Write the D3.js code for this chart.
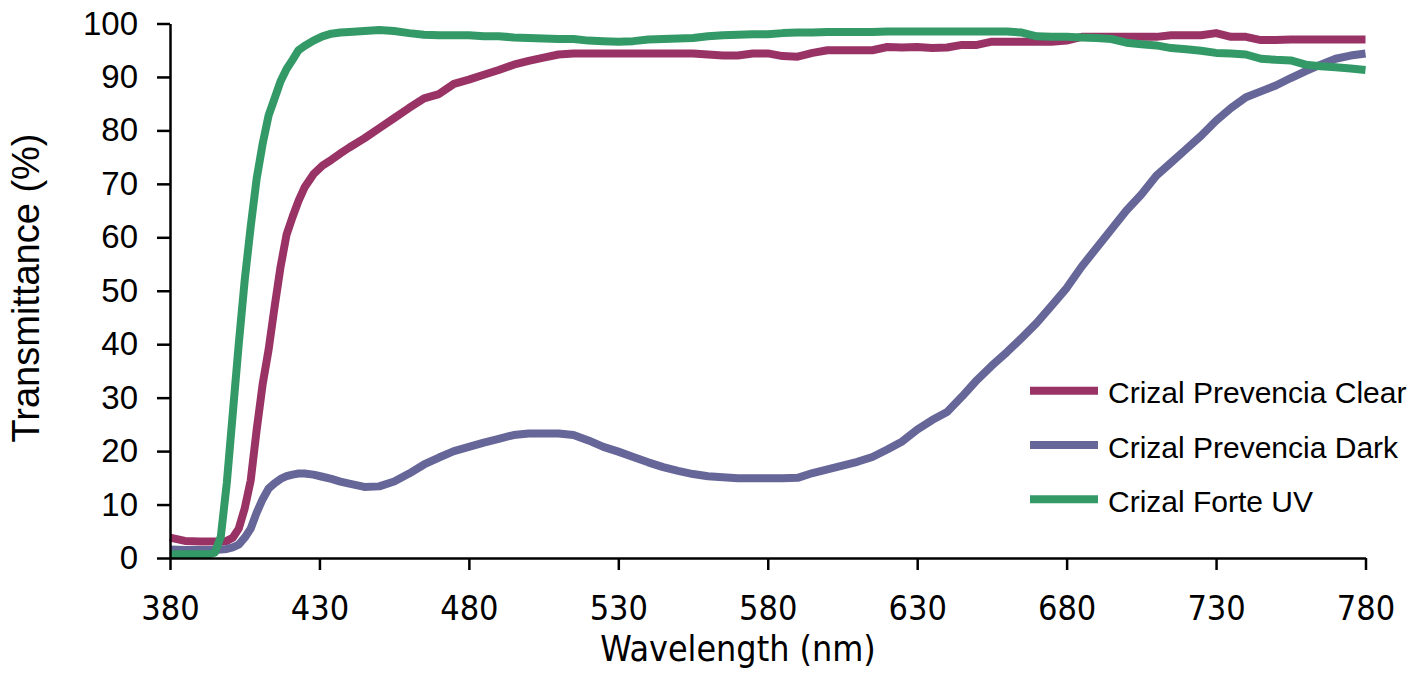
<!DOCTYPE html>
<html>
<head>
<meta charset="utf-8">
<script src="https://cdn.jsdelivr.net/npm/d3@7"></script>
<style>
  html, body { margin: 0; padding: 0; background: #fff; }
  svg { display: block; }
</style>
</head>
<body>
<svg id="chart" width="1418" height="676"></svg>
<script>
// ---- DATA ----
const wavelengths = [380,385,390,393,395,397,399,401,403,405,407,409,411,413,415,417,419,421,423,425,428,431,434,437,440,445,450,455,460,465,470,475,480,485,490,495,500,505,510,515,520,525,530,535,540,545,550,555,560,565,570,575,580,585,590,595,600,605,610,615,620,625,630,635,640,645,650,655,660,665,670,675,680,685,690,695,700,705,710,715,720,725,730,735,740,745,750,755,760,765,770,775,780];

const clearValues = [3.8,3.2,3.1,3.1,3.1,3.1,3.2,3.8,5.5,9.3,14.5,24,32.5,39,47,54.5,60.5,63.8,66.8,69.3,71.8,73.4,74.5,75.7,76.8,78.5,80.4,82.3,84.2,86,86.8,88.7,89.5,90.4,91.3,92.3,93,93.6,94.2,94.4,94.4,94.4,94.4,94.4,94.4,94.4,94.4,94.4,94.2,94,94,94.4,94.4,93.9,93.8,94.5,95,95,95,95,95.6,95.5,95.6,95.4,95.5,96,96,96.6,96.6,96.6,96.6,96.6,96.8,97.5,97.5,97.5,97.5,97.5,97.5,97.8,97.8,97.8,98.2,97.5,97.5,96.9,96.9,97,97,97,97,97,97];

const darkValues = [1.6,1.5,1.5,1.5,1.5,1.6,1.7,2,2.5,3.8,5.5,8.5,11,13,14,14.8,15.3,15.6,15.8,15.8,15.6,15.2,14.8,14.3,13.9,13.3,13.4,14.3,15.8,17.5,18.8,20,20.8,21.6,22.3,23,23.3,23.3,23.3,23,22,20.8,19.9,18.9,17.9,17,16.3,15.7,15.3,15.1,14.9,14.9,14.9,14.9,15,15.9,16.6,17.3,18,18.9,20.3,21.8,24,25.8,27.3,30.2,33.3,36,38.5,41.2,44,47.2,50.5,54.5,58,61.5,65,68,71.5,74,76.5,79,81.8,84.2,86.2,87.3,88.4,89.8,91.1,92.3,93.4,94,94.4];

const forteValues = [0.7,0.7,0.7,0.7,1,4,14,27,40,52,62,71,77.5,82.8,86,89.2,91.5,93.2,95,95.8,96.8,97.6,98.1,98.3,98.4,98.6,98.8,98.6,98.2,97.9,97.8,97.8,97.8,97.6,97.6,97.4,97.3,97.2,97.1,97.1,96.8,96.7,96.6,96.7,97,97.1,97.2,97.3,97.6,97.8,97.9,98,98,98.2,98.3,98.3,98.4,98.4,98.4,98.4,98.5,98.5,98.5,98.5,98.5,98.5,98.5,98.5,98.5,98.3,97.6,97.5,97.5,97.4,97.3,97.1,96.4,96.1,95.9,95.4,95.2,94.9,94.5,94.4,94.2,93.4,93.2,93.1,92.3,92,91.8,91.6,91.3];

const seriesNames = ["Crizal Prevencia Clear", "Crizal Prevencia Dark", "Crizal Forte UV"];
const seriesColors = ["#993366", "#666699", "#339966"];
const xTicks = [380,430,480,530,580,630,680,730,780];
const yTicks = [0,10,20,30,40,50,60,70,80,90,100];
const xTitle = "Wavelength (nm)";
const yTitle = "Transmittance (%)";

// ---- CHART ----
const svg = d3.select("#chart");
const x = d3.scaleLinear().domain([380, 780]).range([170, 1365.5]);
const y = d3.scaleLinear().domain([0, 100]).range([558, 23.5]);

const seriesValues = [clearValues, darkValues, forteValues];
const series = seriesNames.map((name, i) => ({
  name, color: seriesColors[i],
  points: wavelengths.map((w, j) => ({ w, v: seriesValues[i][j] }))
}));

const line = d3.line().x(d => x(d.w)).y(d => y(d.v));

const gLines = svg.append("g");
series.forEach(s => {
  gLines.append("path")
    .datum(s.points)
    .attr("fill", "none")
    .attr("stroke", s.color)
    .attr("stroke-width", 8)
    .attr("stroke-linejoin", "round")
    .attr("d", line);
});

// Y axis
const yAxis = svg.append("g")
  .attr("transform", "translate(170,0)")
  .call(d3.axisLeft(y).tickValues(yTicks).tickSize(13).tickSizeOuter(0).tickPadding(19));
yAxis.selectAll("path, line").attr("stroke", "#000").attr("stroke-width", 2.5);
yAxis.selectAll("text")
  .attr("font-family", "Liberation Sans, Arial, sans-serif")
  .attr("font-size", 33)
  .attr("fill", "#000");

// X axis
const xAxis = svg.append("g")
  .attr("transform", "translate(0,558)")
  .call(d3.axisBottom(x).tickValues(xTicks).tickSize(12).tickSizeOuter(0).tickPadding(26));
xAxis.selectAll("path, line").attr("stroke", "#000").attr("stroke-width", 2.5);
xAxis.selectAll("text")
  .attr("font-family", "'DejaVu Sans Condensed', 'DejaVu Sans', sans-serif")
  .style("font-stretch", "condensed")
  .attr("font-size", 34)
  .attr("fill", "#000");

// Axis titles
svg.append("text")
  .attr("x", 738).attr("y", 661)
  .attr("text-anchor", "middle")
  .attr("font-family", "'DejaVu Sans Condensed', 'DejaVu Sans', sans-serif")
  .style("font-stretch", "condensed")
  .attr("font-size", 35.5)
  .attr("fill", "#000")
  .text(xTitle);

svg.append("text")
  .attr("transform", "translate(39,288) rotate(-90)")
  .attr("text-anchor", "middle")
  .attr("font-family", "Liberation Sans, Arial, sans-serif")
  .attr("font-size", 38)
  .attr("fill", "#000")
  .text(yTitle);

// Legend
const legend = svg.append("g");
const legendY = d3.scaleBand().domain(seriesNames).range([363.5, 526.5]);
series.forEach(s => {
  const cy = legendY(s.name) + legendY.bandwidth() / 2;
  legend.append("line")
    .attr("x1", 1030).attr("x2", 1098)
    .attr("y1", cy).attr("y2", cy)
    .attr("stroke", s.color).attr("stroke-width", 8);
  legend.append("text")
    .attr("x", 1108).attr("y", cy + 12.5)
    .attr("font-family", "Liberation Sans, Arial, sans-serif")
    .attr("font-size", 30)
    .attr("fill", "#000")
    .text(s.name);
});
</script>
</body>
</html>
